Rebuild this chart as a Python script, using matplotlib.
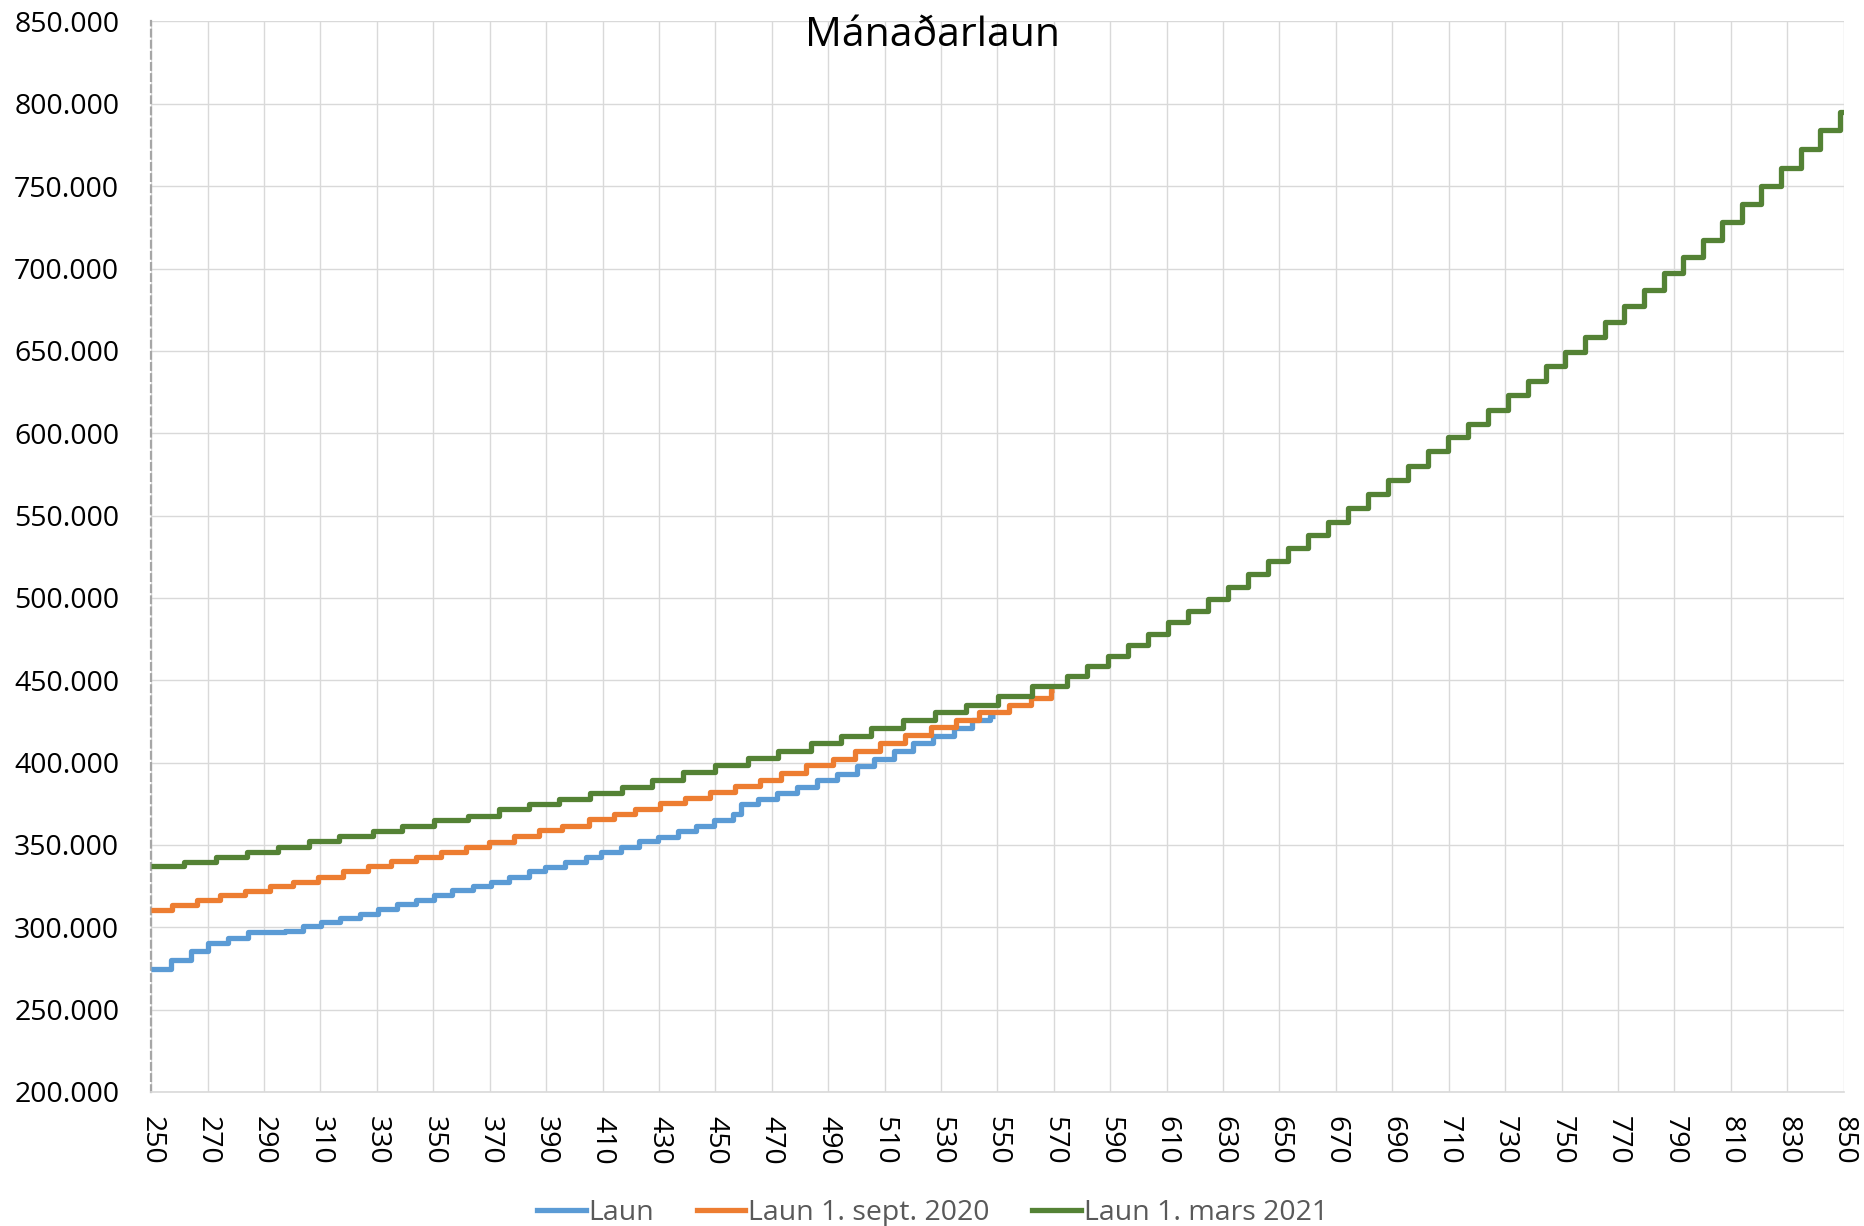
import matplotlib
matplotlib.use("Agg")
import matplotlib.pyplot as plt
from matplotlib.ticker import FuncFormatter
from matplotlib.lines import Line2D

# ---------------- data (step start x, level in kr) ----------------
laun_x = [250, 257.1, 264, 270.2, 277.3, 284.3, 297.3, 303.9, 310.3, 317, 324,
          330.3, 337.1, 343.8, 350.3, 356.8, 363.9, 370.4, 376.8, 383.9, 389.6,
          396.6, 404.2, 409.6, 416.7, 423.1, 429.6, 436.7, 443.2, 449.6, 456.1,
          459.1, 465, 472, 479.1, 486.2, 493.2, 500.3, 506.2, 513.3, 520.2, 527,
          534.5, 540.9, 547.5]
laun_y = [274800, 280300, 285400, 290500, 293200, 296900, 297700, 300800, 303200,
          305500, 308300, 310900, 313900, 316800, 319600, 322400, 325200, 327800,
          330800, 334100, 336800, 339400, 342500, 345500, 349000, 352200, 355100,
          358300, 361800, 365200, 368500, 375000, 378000, 381700, 385200, 389600,
          393300, 397800, 402400, 406900, 411600, 416100, 420800, 425900, 428400]
laun_end = 549

sept_x = [250, 257.2, 266.1, 274.3, 283.2, 292, 300.2, 309.1, 317.9, 326.7, 335,
          343.8, 352.6, 361.5, 369.8, 378.6, 387.5, 395.7, 405.1, 413.9, 421.6,
          430.5, 439.3, 448.1, 457, 465.8, 473.4, 482.3, 491.7, 499.4, 508.2,
          517.1, 526.5, 535.3, 543.6, 554.2, 561.8, 568.9]
sept_y = [310700, 313700, 316500, 319600, 322200, 324800, 327800, 330800, 334300,
          337300, 340100, 342900, 345800, 349000, 352000, 355400, 359000, 361800,
          365900, 368500, 372000, 375400, 378700, 382100, 385600, 389600, 393700,
          398400, 402400, 406900, 412000, 416500, 421500, 426000, 431000, 435000,
          439000, 444000]
sept_end = 570

mars_x = [250, 261.6, 273.1, 284.1, 294.8, 306, 316.6, 328.5, 339, 350.4, 362.2,
          373.4, 384, 394.6, 405.7, 416.9, 427.5, 438.7, 449.9, 461.7, 472.3, 484,
          494.6, 505.2, 516.5, 528, 539, 550.3, 562.1, 574.5, 581.6, 589.3, 596.4,
          603.5, 610.5, 617.6, 624.7, 631.8, 638.9, 645.9, 653, 660.1, 667.2,
          674.3, 681.4, 688.4, 695.5, 702.6, 709.7, 716.8, 723.8, 730.9, 738,
          744.5, 751.4, 758.4, 765.3, 772.3, 779.2, 786.2, 793.1, 800.1, 807,
          814, 820.9, 827.9, 834.8, 841.8, 848.7]
mars_y = [337000, 339800, 342600, 346000, 348800, 352400, 355200, 358600, 361400,
          365000, 367800, 371600, 375000, 378000, 381700, 385200, 389600, 394300,
          398400, 402800, 407100, 412000, 416000, 421300, 426000, 431000, 435000,
          440200, 446300, 452400, 458600, 465000, 471500, 478200, 485100, 492200,
          499500, 506900, 514500, 522200, 530100, 538100, 546200, 554500, 562900,
          571400, 580100, 588900, 597400, 605800, 614300, 623000, 631800, 640800,
          649500, 658500, 667800, 677300, 687000, 697000, 707200, 717600, 728200,
          739000, 750000, 761200, 772500, 783800, 795000]
mars_end = 850

series_names = ["Laun", "Laun 1. sept. 2020", "Laun 1. mars 2021"]
x_ticks = list(range(250, 851, 20))
y_ticks = list(range(200000, 850001, 50000))

colors = ["#5B9BD5", "#ED7D31", "#548235"]

plt.rcParams['font.family'] = ['Open Sans', 'DejaVu Sans']

fig = plt.figure(figsize=(18.65, 12.26), dpi=100)
ax = fig.add_axes([0.0811, 0.1093, 0.9885 - 0.0811, 0.9825 - 0.1093])

for xs, ys, xe, c in [(laun_x, laun_y, laun_end, colors[0]),
                      (sept_x, sept_y, sept_end, colors[1]),
                      (mars_x, mars_y, mars_end, colors[2])]:
    ax.step(list(xs) + [xe], list(ys) + [ys[-1]], where="post", color=c,
            lw=3.8, solid_joinstyle="round", solid_capstyle="butt", zorder=3)

ax.set_xlim(250, 850)
ax.set_ylim(200000, 850000)
ax.set_xticks(x_ticks)
ax.set_yticks(y_ticks)
ax.yaxis.set_major_formatter(FuncFormatter(lambda v, p: f"{v:,.0f}".replace(",", ".")))
ax.tick_params(axis="both", length=0, labelsize=20.5, colors="#000000")
ax.tick_params(axis="y", pad=23)
ax.tick_params(axis="x", pad=17, labelrotation=-90)
for lab in ax.get_xticklabels():
    lab.set_verticalalignment("top")

ax.grid(True, color="#d9d9d9", lw=1.0, zorder=0)
for s in ["top", "right"]:
    ax.spines[s].set_visible(False)
ax.spines["bottom"].set_color("#d9d9d9")
ax.spines["bottom"].set_linewidth(1.2)
ax.spines["left"].set_color("#a6a6a6")
ax.spines["left"].set_linewidth(1.6)
ax.spines["left"].set_linestyle((0, (3, 2)))

fig.text(0.5, 0.971, "Mánaðarlaun", ha="center", va="center", fontsize=29.5,
         color="#000000")

handles = [Line2D([], [], color=c, lw=3.8) for c in colors]
leg = fig.legend(handles, series_names, loc="center", bbox_to_anchor=(0.5, 0.011),
                 ncol=3, frameon=False, fontsize=20.5, handlelength=1.7,
                 handletextpad=0.1, columnspacing=1.5, borderaxespad=0)
for t in leg.get_texts():
    t.set_color("#595959")

fig.savefig("out.png", dpi=100)
